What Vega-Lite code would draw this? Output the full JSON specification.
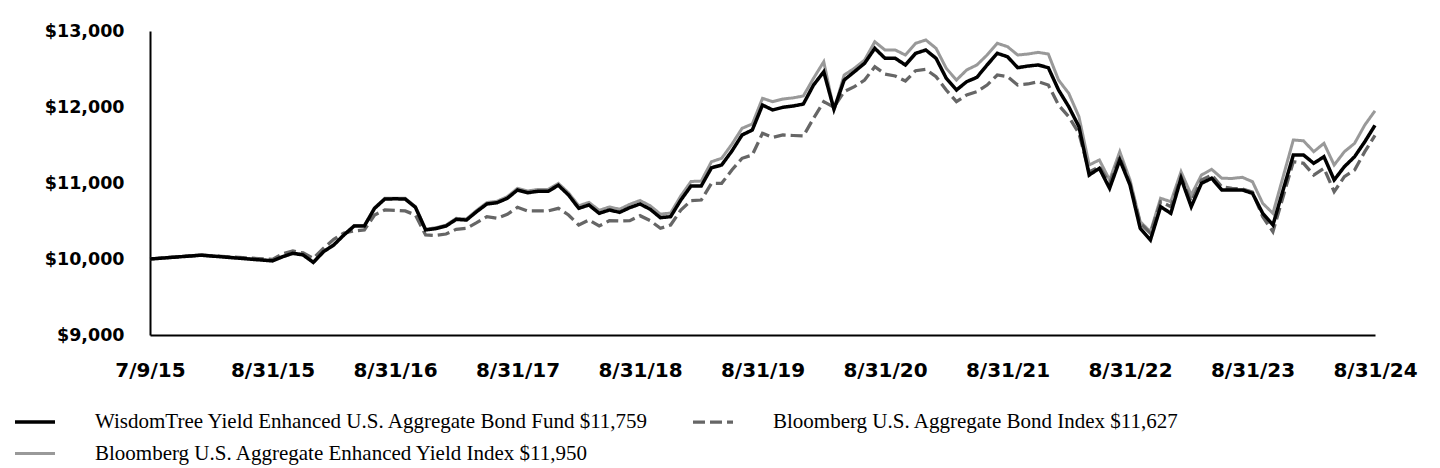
{
  "$schema": "https://vega.github.io/schema/vega-lite/v6.json",
  "width": 1225,
  "height": 304,
  "autosize": {"type": "none"},
  "padding": {"left": 150, "top": 31, "right": 65, "bottom": 133},
  "background": "white",
  "config": {
    "view": {"stroke": null},
    "axis": {"grid": false, "ticks": false, "domainColor": "#000000", "domainWidth": 2, "labelColor": "#000000", "labelFont": "DejaVu Sans", "labelFontWeight": "bold", "title": null}
  },
  "data": {"values": [
    {"k":0,"w":10000,"a":10000,"e":10000},
    {"k":5,"w":10050,"a":10050,"e":10055},
    {"k":12,"w":9975,"a":9995,"e":9980},
    {"k":13,"w":10030,"a":10070,"e":10035},
    {"k":14,"w":10075,"a":10105,"e":10080},
    {"k":15,"w":10053,"a":10080,"e":10060},
    {"k":16,"w":9955,"a":10009,"e":9960},
    {"k":17,"w":10096,"a":10141,"e":10100},
    {"k":18,"w":10184,"a":10259,"e":10190},
    {"k":19,"w":10316,"a":10342,"e":10322},
    {"k":20,"w":10434,"a":10368,"e":10440},
    {"k":21,"w":10434,"a":10382,"e":10442},
    {"k":22,"w":10667,"a":10579,"e":10675},
    {"k":23,"w":10789,"a":10645,"e":10798},
    {"k":24,"w":10792,"a":10640,"e":10800},
    {"k":25,"w":10789,"a":10632,"e":10798},
    {"k":26,"w":10680,"a":10579,"e":10690},
    {"k":27,"w":10382,"a":10316,"e":10392},
    {"k":28,"w":10400,"a":10310,"e":10412},
    {"k":29,"w":10434,"a":10329,"e":10446},
    {"k":30,"w":10522,"a":10391,"e":10535},
    {"k":31,"w":10513,"a":10404,"e":10527},
    {"k":32,"w":10623,"a":10478,"e":10640},
    {"k":33,"w":10724,"a":10557,"e":10742},
    {"k":34,"w":10741,"a":10535,"e":10760},
    {"k":35,"w":10799,"a":10588,"e":10820},
    {"k":36,"w":10908,"a":10680,"e":10930},
    {"k":37,"w":10872,"a":10632,"e":10895},
    {"k":38,"w":10891,"a":10632,"e":10915},
    {"k":39,"w":10891,"a":10632,"e":10915},
    {"k":40,"w":10970,"a":10667,"e":10995},
    {"k":41,"w":10842,"a":10579,"e":10870},
    {"k":42,"w":10667,"a":10447,"e":10700},
    {"k":43,"w":10711,"a":10513,"e":10745},
    {"k":44,"w":10601,"a":10434,"e":10640},
    {"k":45,"w":10645,"a":10504,"e":10685},
    {"k":46,"w":10614,"a":10500,"e":10655},
    {"k":47,"w":10676,"a":10504,"e":10720},
    {"k":48,"w":10724,"a":10570,"e":10770},
    {"k":49,"w":10654,"a":10504,"e":10700},
    {"k":50,"w":10544,"a":10404,"e":10590},
    {"k":51,"w":10557,"a":10447,"e":10605},
    {"k":52,"w":10776,"a":10645,"e":10830},
    {"k":53,"w":10961,"a":10768,"e":11020},
    {"k":54,"w":10961,"a":10776,"e":11025},
    {"k":55,"w":11200,"a":10996,"e":11280},
    {"k":56,"w":11237,"a":10996,"e":11325},
    {"k":57,"w":11420,"a":11171,"e":11510},
    {"k":58,"w":11632,"a":11325,"e":11720},
    {"k":59,"w":11697,"a":11368,"e":11776},
    {"k":60,"w":12026,"a":11654,"e":12114},
    {"k":61,"w":11961,"a":11601,"e":12070},
    {"k":62,"w":11996,"a":11632,"e":12105},
    {"k":63,"w":12013,"a":11625,"e":12120},
    {"k":64,"w":12039,"a":11618,"e":12145},
    {"k":65,"w":12289,"a":11851,"e":12378},
    {"k":66,"w":12464,"a":12070,"e":12596},
    {"k":67,"w":11970,"a":11996,"e":11961},
    {"k":68,"w":12355,"a":12202,"e":12421},
    {"k":69,"w":12464,"a":12267,"e":12509},
    {"k":70,"w":12575,"a":12355,"e":12618},
    {"k":71,"w":12772,"a":12530,"e":12859},
    {"k":72,"w":12641,"a":12434,"e":12750},
    {"k":73,"w":12641,"a":12408,"e":12750},
    {"k":74,"w":12553,"a":12342,"e":12684},
    {"k":75,"w":12706,"a":12478,"e":12838},
    {"k":76,"w":12750,"a":12496,"e":12882},
    {"k":77,"w":12641,"a":12399,"e":12772},
    {"k":78,"w":12378,"a":12224,"e":12509},
    {"k":79,"w":12224,"a":12070,"e":12355},
    {"k":80,"w":12333,"a":12158,"e":12487},
    {"k":81,"w":12390,"a":12202,"e":12553},
    {"k":82,"w":12553,"a":12289,"e":12684},
    {"k":83,"w":12706,"a":12421,"e":12838},
    {"k":84,"w":12662,"a":12399,"e":12794},
    {"k":85,"w":12517,"a":12289,"e":12684},
    {"k":86,"w":12539,"a":12303,"e":12697},
    {"k":87,"w":12553,"a":12333,"e":12719},
    {"k":88,"w":12517,"a":12289,"e":12697},
    {"k":89,"w":12224,"a":12026,"e":12355},
    {"k":90,"w":12004,"a":11872,"e":12180},
    {"k":91,"w":11741,"a":11654,"e":11872},
    {"k":92,"w":11105,"a":11145,"e":11237},
    {"k":93,"w":11193,"a":11215,"e":11303},
    {"k":94,"w":10930,"a":10996,"e":11040},
    {"k":95,"w":11303,"a":11346,"e":11412},
    {"k":96,"w":10974,"a":10996,"e":11040},
    {"k":97,"w":10404,"a":10470,"e":10491},
    {"k":98,"w":10250,"a":10338,"e":10359},
    {"k":99,"w":10688,"a":10754,"e":10799},
    {"k":100,"w":10601,"a":10688,"e":10754},
    {"k":101,"w":11062,"a":11083,"e":11149},
    {"k":102,"w":10688,"a":10754,"e":10842},
    {"k":103,"w":10996,"a":11040,"e":11105},
    {"k":104,"w":11062,"a":11105,"e":11180},
    {"k":105,"w":10908,"a":10950,"e":11062},
    {"k":106,"w":10908,"a":10930,"e":11060},
    {"k":107,"w":10908,"a":10920,"e":11075},
    {"k":108,"w":10864,"a":10880,"e":11017},
    {"k":109,"w":10601,"a":10557,"e":10732},
    {"k":110,"w":10447,"a":10359,"e":10601},
    {"k":111,"w":10908,"a":10820,"e":11083},
    {"k":112,"w":11368,"a":11280,"e":11566},
    {"k":113,"w":11368,"a":11259,"e":11555},
    {"k":114,"w":11259,"a":11105,"e":11412},
    {"k":115,"w":11346,"a":11193,"e":11522},
    {"k":116,"w":11040,"a":10886,"e":11237},
    {"k":117,"w":11215,"a":11083,"e":11412},
    {"k":118,"w":11346,"a":11171,"e":11522},
    {"k":119,"w":11543,"a":11412,"e":11763},
    {"k":120,"w":11759,"a":11627,"e":11950}
  ]},
  "transform": [{"fold": ["e", "a", "w"], "as": ["s", "v"]}],
  "mark": {"type": "line", "interpolate": "linear", "strokeJoin": "miter", "strokeCap": "butt"},
  "encoding": {
    "x": {"field": "k", "type": "quantitative",
      "scale": {"domain": [0, 120], "nice": false, "zero": false},
      "axis": {"values": [0, 12, 24, 36, 48, 60, 72, 84, 96, 108, 120], "labelExpr": "datum.value == 0 ? '7/9/15' : '8/31/' + (15 + (datum.value - 12) / 12)", "labelFontSize": 20, "labelPadding": 25, "labelFlush": false, "labelOverlap": false}},
    "y": {"field": "v", "type": "quantitative",
      "scale": {"domain": [9000, 13000], "nice": false, "zero": false},
      "axis": {"values": [9000, 10000, 11000, 12000, 13000], "format": "$,.0f", "labelFontSize": 17.5, "labelPadding": 26}},
    "color": {"field": "s", "type": "nominal",
      "scale": {"domain": ["w", "a", "e"], "range": ["#000000", "#666666", "#999999"]},
      "legend": {"title": null, "orient": "none", "legendX": -137, "legendY": 369, "direction": "horizontal", "columns": 2, "columnPadding": 36, "rowPadding": -7, "padding": 0, "symbolType": "stroke", "symbolSize": 1600, "labelOffset": 38, "labelLimit": 800, "labelFont": "Liberation Serif", "labelFontSize": 21, "labelColor": "#000000",
        "labelExpr": "datum.value == 'w' ? 'WisdomTree Yield Enhanced U.S. Aggregate Bond Fund $11,759' : datum.value == 'a' ? 'Bloomberg U.S. Aggregate Bond Index $11,627' : 'Bloomberg U.S. Aggregate Enhanced Yield Index $11,950'"}},
    "strokeDash": {"field": "s", "type": "nominal",
      "scale": {"domain": ["w", "a", "e"], "range": [[1, 0], [12, 5], [1, 0]]},
      "legend": {"title": null, "orient": "none", "legendX": -137, "legendY": 369, "direction": "horizontal", "columns": 2, "columnPadding": 36, "rowPadding": -7, "padding": 0, "symbolType": "stroke", "symbolSize": 1600, "labelOffset": 38, "labelLimit": 800, "labelFont": "Liberation Serif", "labelFontSize": 21, "labelColor": "#000000",
        "labelExpr": "datum.value == 'w' ? 'WisdomTree Yield Enhanced U.S. Aggregate Bond Fund $11,759' : datum.value == 'a' ? 'Bloomberg U.S. Aggregate Bond Index $11,627' : 'Bloomberg U.S. Aggregate Enhanced Yield Index $11,950'"}},
    "strokeWidth": {"field": "s", "type": "nominal",
      "scale": {"domain": ["w", "a", "e"], "range": [3.5, 3, 1.6]},
      "legend": {"title": null, "orient": "none", "legendX": -137, "legendY": 369, "direction": "horizontal", "columns": 2, "columnPadding": 36, "rowPadding": -7, "padding": 0, "symbolType": "stroke", "symbolSize": 1600, "labelOffset": 38, "labelLimit": 800, "labelFont": "Liberation Serif", "labelFontSize": 21, "labelColor": "#000000",
        "labelExpr": "datum.value == 'w' ? 'WisdomTree Yield Enhanced U.S. Aggregate Bond Fund $11,759' : datum.value == 'a' ? 'Bloomberg U.S. Aggregate Bond Index $11,627' : 'Bloomberg U.S. Aggregate Enhanced Yield Index $11,950'"}}
  }
}
